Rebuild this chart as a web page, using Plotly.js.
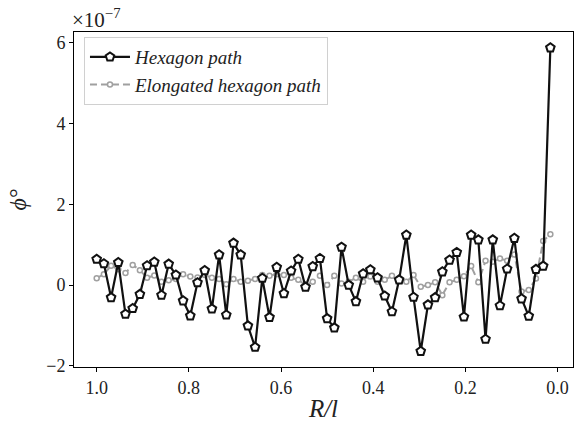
<!DOCTYPE html>
<html>
<head>
<meta charset="utf-8">
<script src="https://cdn.plot.ly/plotly-3.0.1.min.js"></script>
<style>
  html, body { margin: 0; padding: 0; background: #fff; }
  #chart { width: 580px; height: 423px; }
</style>
</head>
<body>
<div id="chart"></div>
<script>
// Sample positions R/l: 64 points stepping down from 1 by 1/64
const nPoints = 64;
const rOverL = Array.from({length: nPoints}, (_, i) => 1 - i / 64);

// phi° values in units of 1e-7
const hexagonPhi = [
  0.64, 0.53, -0.31, 0.56, -0.72, -0.58, -0.23, 0.48, 0.57, -0.25,
  0.52, 0.25, -0.39, -0.76, 0.06, 0.36, -0.59, 0.75, -0.74, 1.04,
  0.75, -1.01, -1.54, 0.17, -0.80, 0.44, -0.21, 0.35, 0.64, -0.05,
  0.46, 0.66, -0.83, -1.06, 0.94, 0.00, -0.41, 0.28, 0.38, 0.18,
  -0.27, -0.66, 0.13, 1.24, -0.30, -1.64, -0.49, -0.31, 0.33, 0.62,
  0.81, -0.79, 1.24, 1.12, -1.34, 1.12, -0.51, 0.40, 1.16, -0.34,
  -0.77, 0.39, 0.47, 5.88
];

const elongatedPhi = [
  0.17, 0.27, 0.48, 0.39, 0.30, 0.50, 0.37, 0.18, 0.24, 0.08,
  0.12, 0.15, 0.27, 0.21, 0.19, 0.25, 0.18, 0.15, 0.02, 0.15,
  0.08, 0.11, 0.15, 0.25, 0.23, 0.27, 0.25, 0.18, 0.13, 0.00,
  0.08, 0.23, 0.00, 0.23, 0.04, 0.08, 0.18, 0.08, 0.21, 0.08,
  0.13, 0.23, 0.13, 0.08, 0.25, -0.04, 0.00, 0.07, -0.25, 0.07,
  0.13, 0.22, 0.47, 0.07, 0.60, 0.58, 0.66, 0.60, 0.76, -0.16,
  -0.12, 0.16, 1.09, 1.26
];

const yTickVals = [-2, 0, 2, 4, 6];
const xTickVals = [1.0, 0.8, 0.6, 0.4, 0.2, 0.0];
const xTickText = ['1.0', '0.8', '0.6', '0.4', '0.2', '0.0'];

const serif = 'Liberation Serif, DejaVu Serif, serif';

const traces = [
  {
    x: rOverL,
    y: elongatedPhi,
    name: '<i>Elongated hexagon path</i>',
    mode: 'lines+markers',
    line: {color: '#a0a0a0', width: 2, dash: '7px,4px'},
    marker: {symbol: 'circle', size: 5, color: '#ffffff',
             line: {color: '#a0a0a0', width: 1.5}}
  },
  {
    x: rOverL,
    y: hexagonPhi,
    name: '<i>Hexagon path</i>',
    mode: 'lines+markers',
    line: {color: '#111111', width: 2.2},
    marker: {symbol: 'pentagon', size: 9, color: '#ffffff',
             line: {color: '#111111', width: 2}}
  }
];

const axisCommon = {
  showline: true, mirror: true, linecolor: '#000', linewidth: 1,
  ticks: 'outside', ticklen: 4, tickwidth: 1, tickcolor: '#000',
  showgrid: false, zeroline: false,
  tickfont: {family: serif, size: 18, color: '#222'}
};

const layout = {
  width: 580, height: 423,
  margin: {l: 74, r: 7, t: 32, b: 56},
  paper_bgcolor: '#fff', plot_bgcolor: '#fff',
  showlegend: true,
  legend: {
    x: 0.02, y: 0.985, xanchor: 'left', yanchor: 'top',
    traceorder: 'reversed',
    bgcolor: 'rgba(255,255,255,0.85)',
    bordercolor: '#d0d0d0', borderwidth: 1,
    font: {family: serif, size: 19, color: '#222'},
    itemwidth: 40,
    tracegroupgap: 4
  },
  xaxis: Object.assign({}, axisCommon, {
    range: [1.0492, -0.0335],
    tickvals: xTickVals, ticktext: xTickText,
    title: {text: '<i>R/l</i>', font: {family: serif, size: 25, color: '#222'}, standoff: 2}
  }),
  yaxis: Object.assign({}, axisCommon, {
    range: [-2.03, 6.27],
    tickvals: yTickVals,
    title: {text: '<i>ϕ</i>°', font: {family: serif, size: 24, color: '#222'}, standoff: 12}
  }),
  annotations: [{
    xref: 'paper', yref: 'paper', x: 0, y: 1, xanchor: 'left', yanchor: 'bottom',
    xshift: -4, yshift: -2,
    text: '×10<sup>−7</sup>', showarrow: false,
    font: {family: serif, size: 21, color: '#222'}
  }]
};

Plotly.newPlot('chart', traces, layout, {displayModeBar: false, staticPlot: true});
</script>
</body>
</html>
